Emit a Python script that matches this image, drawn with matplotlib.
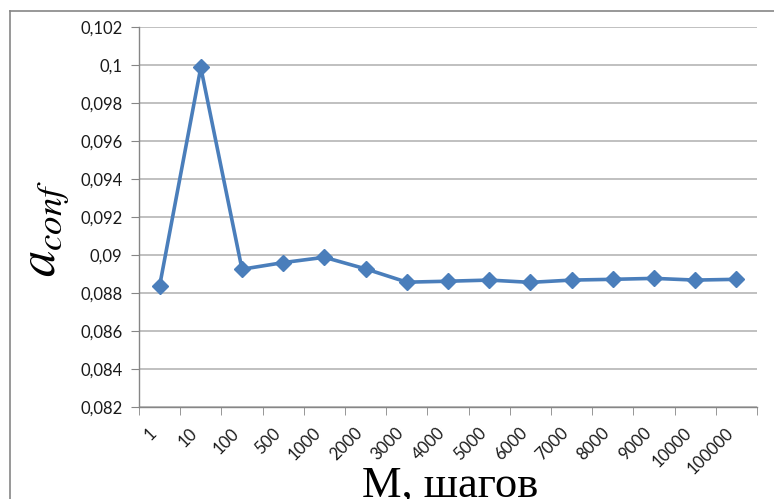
import numpy as np
import matplotlib
matplotlib.use('Agg')
import matplotlib.pyplot as plt
from matplotlib.lines import Line2D


###############################
# Data
###############################
steps = ['1', '10', '100', '500', '1000', '2000', '3000', '4000', '5000',
         '6000', '7000', '8000', '9000', '10000', '100000']
a_conf = [0.08837, 0.09987, 0.08925, 0.08960, 0.08988, 0.08927, 0.08857,
          0.08862, 0.08868, 0.08856, 0.08868, 0.08872, 0.08877, 0.08868,
          0.08872]
y_ticks = [0.082, 0.084, 0.086, 0.088, 0.090, 0.092, 0.094, 0.096, 0.098,
           0.100, 0.102]
y_tick_labels = ['0,082', '0,084', '0,086', '0,088', '0,09', '0,092',
                 '0,094', '0,096', '0,098', '0,1', '0,102']


###############################
# Plot
###############################
W, H = 774, 499
fig = plt.figure(figsize=(W / 100, H / 100), dpi=100)
ax = fig.add_axes([139 / W, 1 - 407 / H, 618 / W, 380 / H])

x = np.arange(len(steps))
ax.plot(x, a_conf, color='#4A7EBB', linewidth=2.6, marker='D',
        markersize=8, markeredgecolor='#4A7EBB', markerfacecolor='#4A7EBB',
        zorder=3)

ax.set_xlim(-0.5, len(steps) - 0.5)
ax.set_ylim(y_ticks[0], y_ticks[-1])

ax.set_yticks(y_ticks)
ax.set_yticklabels(y_tick_labels)
ax.set_xticks(x)
ax.set_xticklabels(steps, rotation=45, ha='right', va='top')
ax.set_xticks(np.arange(-0.5, len(steps)), minor=True)

for lbl in ax.get_xticklabels() + ax.get_yticklabels():
    lbl.set_fontfamily('Lato')
    lbl.set_fontsize(12)
    lbl.set_color('#1a1a1a')

ax.tick_params(axis='x', which='major', length=0, pad=13)
ax.tick_params(axis='x', which='minor', length=6, color='#868686', direction='out')
ax.tick_params(axis='y', length=6, color='#868686', direction='out', pad=6)

ax.grid(True, axis='y', color='#B5B5B5', linewidth=1.2)
ax.set_axisbelow(True)
for side in ('top', 'right'):
    ax.spines[side].set_visible(False)
for side in ('left', 'bottom'):
    ax.spines[side].set_color('#868686')
    ax.spines[side].set_linewidth(1.0)

# axis titles
fig.text(450 / W, 1 - 497 / H, 'M, шагов', family='Liberation Serif',
         fontsize=32, ha='center', va='baseline')
fig.text(45 / W, 1 - 228 / H, r'$a_{conf}$', fontsize=38, rotation=90,
         ha='center', va='center', math_fontfamily='stix')

# chart border (Excel chart area)
fig.add_artist(Line2D([10 / W, 1], [1 - 11 / H, 1 - 11 / H],
                      transform=fig.transFigure, color='#868686', linewidth=1.2))
fig.add_artist(Line2D([10 / W, 10 / W], [0, 1 - 11 / H],
                      transform=fig.transFigure, color='#868686', linewidth=1.2))

fig.savefig('out.png', dpi=100)
